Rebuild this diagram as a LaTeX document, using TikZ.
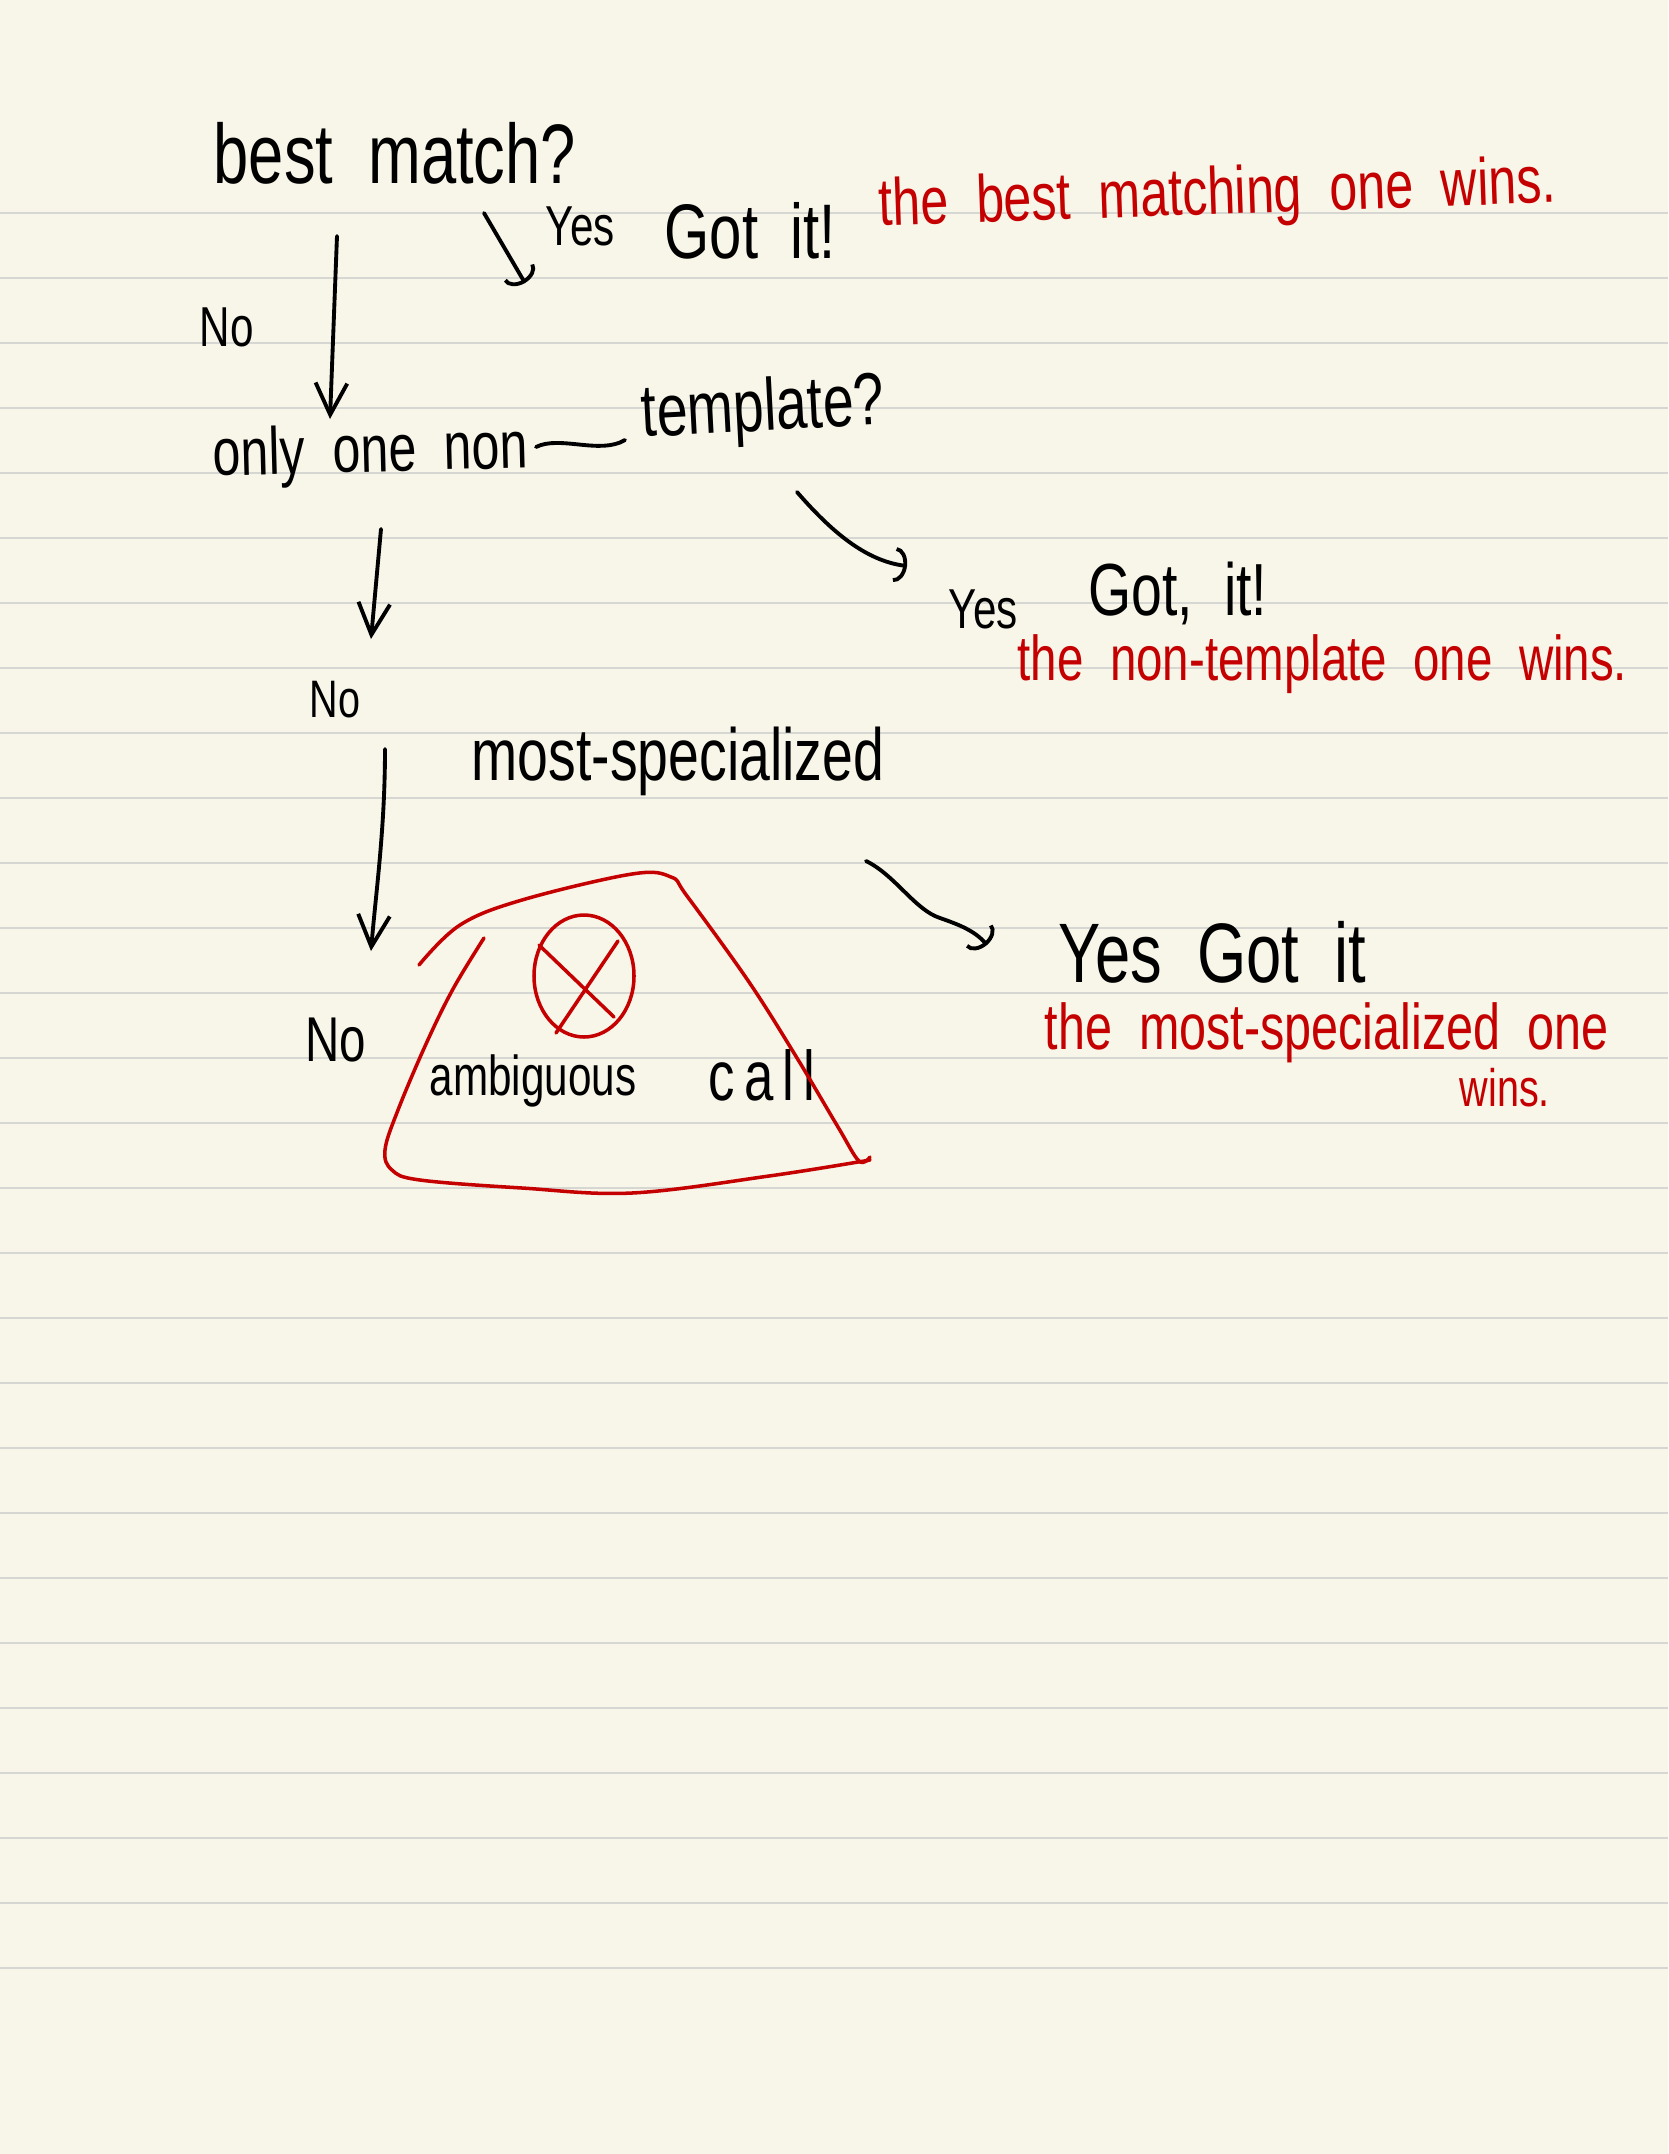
\documentclass[tikz,border=0pt]{standalone}
\usepackage{fontspec}
\setmainfont{Liberation Sans}[FakeStretch=0.75,WordSpace=2]
\usetikzlibrary{arrows.meta,calc}

\definecolor{paper}{HTML}{F8F5E9}
\definecolor{ruled}{HTML}{D6D6D3}
\definecolor{pen}{HTML}{C40000}
\newcommand{\fs}[1]{\fontsize{#1}{#1}\selectfont}

\begin{document}
\begin{tikzpicture}[x=0.01cm, y=-0.01cm,
    txt/.style={inner sep=0pt, anchor=base west},
    redtxt/.style={txt, text=pen},
    ink/.style={line width=1.1pt, line cap=round, line join=round},
    downarr/.style={ink, -{Straight Barb[length=9pt,width=9pt]}},
    curlarr/.style={ink, -{Arc Barb[length=3.5pt,width=10pt]}},
    redstroke/.style={draw=pen, line width=1pt, line cap=round, line join=round}]
    % paper
    \fill[paper] (0,0) rectangle (1668,2154);
    \useasboundingbox (0,0) rectangle (1668,2154);
    \foreach \k in {0,...,27}
        \draw[ruled, line width=0.8pt] (0,{213+65*\k}) -- (1668,{213+65*\k});

    \node[txt, font={\fs{24}}] (best) at (213,183) {best match?};
    \node[txt, font={\fs{16}}] (yesA) at (545,245) {Yes};
    \node[txt, font={\fs{22}}] (gotA) at (664,258) {Got it!};
    \node[redtxt, font={\fs{19}}, rotate=2] (winA) at (879,226) {the best matching one wins.};
    \node[txt, font={\fs{16}}] (noA) at (199,346) {No};
    \node[txt, font={\fs{19}}, rotate=1.5] (only) at (213,476) {only one non};
    \node[txt, font={\fs{21}}, rotate=3] (templ) at (642,437) {template?};
    \node[txt, font={\fs{16}}] (yesB) at (948,628) {Yes};
    \node[txt, font={\fs{21}}] (gotB) at (1088,615) {Got, it!};
    \node[redtxt, font={\fs{18}}] (winB) at (1017,680) {the non-template one wins.};
    \node[txt, font={\fs{15}}] (noB) at (309,717) {No};
    \node[txt, font={\fs{21}}] (most) at (471,780) {most-specialized};
    \node[txt, font={\fs{24}}] (yesC) at (1058,982) {Yes Got it};
    \node[redtxt, font={\fs{18.4}}] (winC) at (1044,1049) {the most-specialized one};
    \node[redtxt, font={\fs{15}}] (winD) at (1459,1106) {wins.};
    \node[txt, font={\fs{18}}] (noC) at (305,1061) {No};
    \node[txt, font={\fs{16}}] (amb) at (429,1095) {ambiguous};
    \node[txt, font={\fs{20}\addfontfeature{LetterSpace=13}}] (call) at (708,1100) {call};

    \draw[curlarr] ($(best.base west)+(271,30)$) -- ($(yesA.base west)+(-20,38)$);
    \draw[downarr] ($(best.base west)+(124,53)$) -- ($(only.base west)+(117,-57)$);
    \draw[ink] ($(only.base west)+(323,-29)$) .. controls +(24,-12) and +(-25,15) .. ($(templ.base west)+(-17,3)$);
    \draw[downarr] ($(only.base west)+(168,53)$) -- ($(noB.base west)+(62,-78)$);
    \draw[curlarr] ($(templ.base west)+(155,55)$) .. controls +(33,38) and +(-42,-5) .. ($(yesB.base west)+(-41,-62)$);
    \draw[downarr] ($(noB.base west)+(76,32)$) .. controls +(0,80) and +(5,-60) .. ($(noC.base west)+(66,-110)$);
    \draw[curlarr] ($(most.base west)+(395,81)$) .. controls +(29,14) and +(-25,-8) .. (940,918)
        .. controls +(20,7) and +(-12,-14) .. ($(yesC.base west)+(-71,-37)$);

    % the red blob round the ambiguous call
    \draw[redstroke] plot[smooth, tension=0.6] coordinates {(419,965) (460,925) (522,900) (632,874) (671,877) (687,896) (749,982) (797,1058) (838,1127) (859,1161) (870,1157)};
    \draw[redstroke] plot[smooth, tension=0.6] coordinates {(484,938) (453,989) (426,1044) (398,1110) (385,1150) (392,1170) (420,1180) (522,1188) (632,1193) (769,1176) (870,1160)};
    \draw[redstroke] (584,976) ellipse [x radius=50, y radius=61];
    \draw[redstroke] (539,945) -- (614,1017);
    \draw[redstroke] (618,941) -- (556,1033);
\end{tikzpicture}
\end{document}
